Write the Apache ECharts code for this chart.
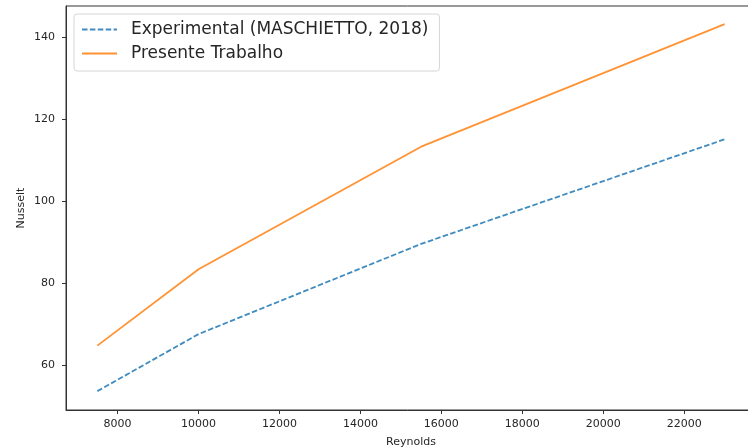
<!DOCTYPE html>
<html>
<head>
<meta charset="utf-8">
<script src="https://cdn.jsdelivr.net/npm/echarts@6/dist/echarts.min.js"></script>
<style>
  html, body { margin: 0; padding: 0; background: #fff; }
  #chart { width: 748px; height: 448px; }
</style>
</head>
<body>
<div id="chart"></div>
<script>
// Reynolds number of each case
const reynolds = [7500, 10000, 15500, 23000];
// Nusselt number: experimental reference and present simulation
const nuExperimental = [53.7, 67.6, 89.6, 115.1];
const nuPresent = [64.8, 83.4, 113.3, 143.2];
// Tick positions
const xTicks = [8000, 10000, 12000, 14000, 16000, 18000, 20000, 22000];
const yTicks = [60, 80, 100, 120, 140];

const font = 'DejaVu Sans';
const textColor = '#262626';
const toPairs = (xs, ys) => xs.map((x, i) => [x, ys[i]]);
const plain = v => String(v);

const chart = echarts.init(document.getElementById('chart'), null, { renderer: 'canvas' });
chart.setOption({
  animation: false,
  backgroundColor: '#ffffff',
  textStyle: { fontFamily: font },
  // plot area runs slightly past the right edge of the canvas
  grid: { left: 66, top: 6, width: 690, height: 404, containLabel: false,
          outerBoundsMode: 'none',
          show: true, borderColor: '#333', borderWidth: 1 },
  legend: {
    orient: 'vertical',
    left: 74, top: 14,
    padding: [7, 11, 9, 7],
    itemGap: 7,
    itemWidth: 35, itemHeight: 17,
    backgroundColor: 'rgba(255,255,255,0.8)',
    borderColor: '#d6d6d6', borderWidth: 1, borderRadius: 3,
    itemStyle: { opacity: 0 },
    textStyle: { fontFamily: font, fontSize: 17, color: textColor, padding: [0, 0, 0, 9] },
    data: ['Experimental (MASCHIETTO, 2018)', 'Presente Trabalho']
  },
  xAxis: {
    type: 'value', min: 6725, max: 23775,
    name: 'Reynolds', nameLocation: 'middle', nameGap: 27,
    nameTextStyle: { fontFamily: font, fontSize: 11, color: textColor },
    splitLine: { show: false },
    axisLine: { show: true, lineStyle: { color: '#333', width: 1 } },
    axisTick: { show: true, length: 4, customValues: xTicks, lineStyle: { color: '#333' } },
    axisLabel: { customValues: xTicks, formatter: plain, margin: 9, fontFamily: font, fontSize: 11, color: textColor }
  },
  yAxis: {
    type: 'value', min: 49.1, max: 147.6,
    name: 'Nusselt', nameLocation: 'middle', nameGap: 39, nameRotate: 90,
    nameMoveOverlap: false,
    nameTextStyle: { fontFamily: font, fontSize: 11, color: textColor },
    splitLine: { show: false },
    axisLine: { show: true, lineStyle: { color: '#333', width: 1 } },
    axisTick: { show: true, length: 4, customValues: yTicks, lineStyle: { color: '#333' } },
    axisLabel: { customValues: yTicks, formatter: plain, margin: 11, fontFamily: font, fontSize: 11, color: textColor }
  },
  series: [
    {
      name: 'Experimental (MASCHIETTO, 2018)',
      type: 'line',
      data: toPairs(reynolds, nuExperimental),
      symbol: 'none',
      color: 'rgba(31,119,180,0.85)',
      lineStyle: { color: 'rgba(31,119,180,0.85)', width: 1.8, type: [5.5, 2.4] }
    },
    {
      name: 'Presente Trabalho',
      type: 'line',
      data: toPairs(reynolds, nuPresent),
      symbol: 'none',
      color: 'rgba(255,127,14,0.85)',
      lineStyle: { color: 'rgba(255,127,14,0.85)', width: 1.8 }
    }
  ]
});
</script>
</body>
</html>
